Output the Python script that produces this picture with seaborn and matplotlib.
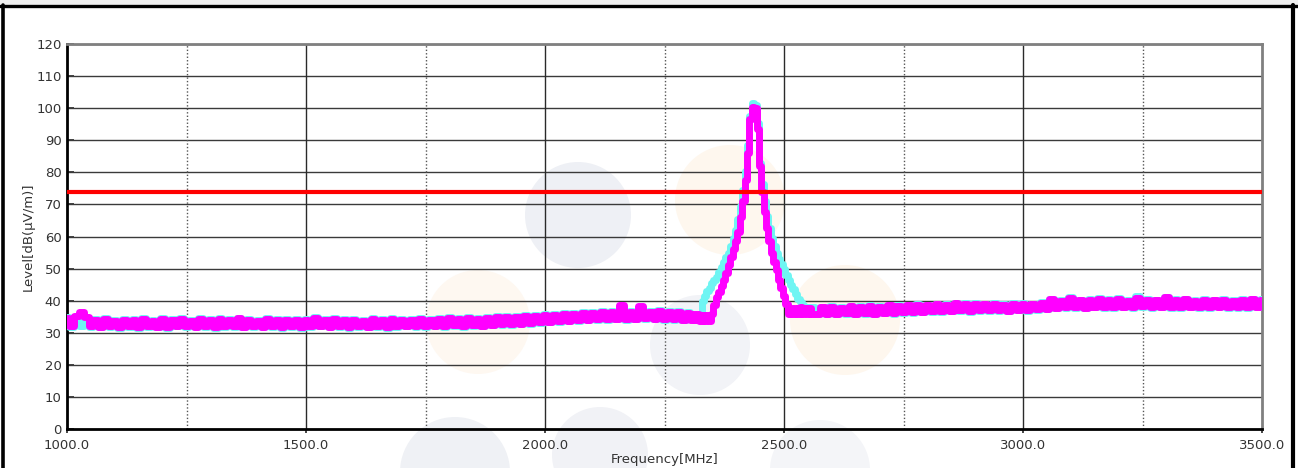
import numpy as np
import pandas as pd
import matplotlib
matplotlib.use("Agg")
import matplotlib.pyplot as plt
from matplotlib.patches import Circle, Rectangle
from matplotlib.lines import Line2D
import seaborn as sns

# ---------------- data ----------------
freq_a = list(range(1000, 2301, 10))      # MHz
freq_b = list(range(2305, 2561, 5))
freq_c = list(range(2570, 3501, 10))
frequency = freq_a + freq_b + freq_c

magenta_a = [
    34.5, 32.0, 35.2, 36.4, 34.8, 32.2, 34.0, 31.9, 34.2, 32.0,
    33.8, 31.8, 34.1, 32.0, 33.9, 31.7, 34.2, 32.1, 33.8, 31.9,
    34.3, 31.8, 33.9, 32.2, 34.4, 32.0, 33.8, 31.9, 34.2, 32.1,
    34.0, 31.8, 34.3, 32.0, 33.9, 32.1, 34.5, 31.9, 34.0, 32.0,
    33.8, 31.9, 34.2, 32.1, 34.0, 31.8, 33.9, 32.0, 34.1, 31.8,
    33.9, 32.0, 34.6, 32.2, 34.0, 31.9, 34.3, 32.1, 33.9, 31.8,
    34.1, 32.0, 33.8, 31.9, 34.2, 32.1, 34.0, 31.8, 34.3, 32.0,
    34.1, 32.2, 33.9, 32.0, 34.4, 32.1, 34.0, 32.2, 34.3, 32.0,
    34.5, 32.3, 34.2, 32.1, 34.6, 32.4, 34.3, 32.2, 34.7, 32.5,
    34.8, 32.6, 35.0, 32.7, 34.9, 32.8, 35.3, 33.0, 35.1, 33.2,
    35.6, 33.4, 35.5, 33.6, 35.9, 33.8, 35.8, 34.0, 36.3, 34.1,
    36.2, 34.2, 36.6, 34.3, 36.4, 34.4, 38.8, 34.3, 36.5, 34.4,
    38.2, 34.5, 36.6, 34.4, 36.7, 34.3, 36.5, 34.2, 36.4, 34.1,
    36.3,
]
magenta_b = [
    34.0, 35.8, 33.9, 35.7, 33.8, 35.5, 33.7, 35.4, 33.8, 36.0,
    38.5, 41.0, 42.8, 44.5, 46.5, 48.5, 51.0, 53.5, 56.0, 58.5,
    61.5, 66.0, 71.0, 77.5, 86.0, 96.5, 100.5, 100.0, 93.5, 82.0,
    74.0, 67.5, 62.5, 58.5, 55.0, 52.0, 49.5, 46.5, 44.0, 41.5,
    39.0, 36.0, 37.8, 35.8, 37.6, 35.7, 37.9, 35.8, 37.7, 35.9,
    37.8, 36.0,
]
magenta_c = [
    35.8, 37.9, 35.9, 38.0, 36.0, 37.8, 36.1, 38.2, 35.9, 38.0,
    36.2, 38.3, 36.0, 38.1, 36.3, 38.5, 36.2, 38.3, 36.4, 38.6,
    36.5, 38.7, 36.6, 38.5, 36.8, 38.9, 36.7, 38.8, 36.9, 39.2,
    37.0, 39.0, 36.8, 39.1, 37.0, 38.9, 37.1, 39.0, 37.0, 38.8,
    36.9, 39.0, 37.2, 39.1, 37.0, 38.9, 37.3, 39.4, 37.5, 40.4,
    37.8, 40.0, 37.9, 40.8, 38.0, 40.1, 37.8, 40.3, 38.1, 40.5,
    38.0, 40.2, 37.9, 40.6, 38.1, 40.0, 38.0, 40.9, 38.2, 40.3,
    38.0, 40.1, 38.1, 41.2, 38.0, 40.2, 37.9, 40.4, 38.1, 40.0,
    38.0, 40.3, 37.9, 40.1, 38.1, 40.2, 38.0, 40.0, 37.9, 40.3,
    38.0, 40.4, 38.1, 40.2,
]
cyan_a = [
    34.8, 31.7, 35.0, 32.0, 34.6, 31.9, 34.3, 31.7, 34.5, 31.8,
    34.1, 31.6, 34.4, 31.8, 34.2, 31.6, 34.5, 31.9, 34.1, 31.7,
    34.5, 31.6, 34.2, 32.0, 34.6, 31.8, 34.1, 31.7, 34.5, 31.9,
    34.3, 31.6, 34.6, 31.8, 34.2, 31.9, 34.7, 31.7, 34.3, 31.8,
    34.1, 31.7, 34.5, 31.9, 34.3, 31.6, 34.2, 31.8, 34.4, 31.6,
    34.2, 31.8, 34.8, 32.0, 34.3, 31.7, 34.6, 31.9, 34.2, 31.6,
    34.4, 31.8, 34.1, 31.7, 34.5, 31.9, 34.3, 31.6, 34.6, 31.8,
    34.4, 32.0, 34.2, 31.8, 34.7, 31.9, 34.3, 32.0, 34.6, 31.8,
    34.8, 32.1, 34.5, 31.9, 34.9, 32.2, 34.6, 32.0, 35.0, 32.3,
    35.1, 32.4, 35.3, 32.5, 35.2, 32.6, 35.6, 32.8, 35.4, 33.0,
    35.9, 33.2, 35.8, 33.4, 36.2, 33.6, 36.1, 33.8, 36.6, 33.9,
    36.5, 34.0, 36.9, 34.1, 36.7, 34.2, 37.5, 34.1, 36.8, 34.2,
    37.1, 34.3, 36.9, 34.2, 37.0, 34.1, 36.8, 34.0, 36.7, 33.9,
    36.6,
]
cyan_b = [
    34.3, 36.0, 34.1, 35.9, 34.0, 40.0, 41.5, 43.0, 44.0, 45.5,
    46.5, 47.5, 49.0, 50.5, 52.0, 53.5, 55.0, 57.0, 59.5, 62.0,
    65.5, 69.5, 74.5, 80.5, 88.5, 97.5, 101.5, 101.0, 95.5, 83.0,
    76.5, 71.0, 66.5, 62.5, 59.5, 57.0, 55.0, 53.0, 51.5, 50.0,
    48.0, 46.5, 45.0, 43.5, 42.0, 40.5, 39.5, 38.5, 36.5, 38.0,
    36.2, 38.0,
]
cyan_c = [
    36.0, 38.1, 35.7, 38.2, 35.8, 38.0, 35.9, 38.4, 35.7, 38.2,
    36.0, 38.5, 35.8, 38.3, 36.1, 38.7, 36.0, 38.5, 36.2, 38.8,
    36.3, 38.9, 36.4, 38.7, 36.6, 39.1, 36.5, 39.0, 36.7, 39.4,
    36.8, 39.2, 36.6, 39.3, 36.8, 39.1, 36.9, 39.2, 36.8, 39.0,
    36.7, 39.2, 37.0, 39.3, 36.8, 39.1, 37.1, 39.6, 37.3, 40.6,
    37.6, 40.2, 37.7, 41.0, 37.8, 40.3, 37.6, 40.5, 37.9, 40.7,
    37.8, 40.4, 37.7, 40.8, 37.9, 40.2, 37.8, 41.3, 38.0, 40.5,
    37.8, 40.3, 37.9, 41.0, 37.8, 40.4, 37.7, 40.6, 37.9, 40.2,
    37.8, 40.5, 37.7, 40.3, 37.9, 40.4, 37.8, 40.2, 37.7, 40.5,
    37.8, 40.6, 37.9, 40.4,
]
magenta_level = magenta_a + magenta_b + magenta_c
cyan_level = cyan_a + cyan_b + cyan_c
limit_level = 74

x_major_ticks = [1000, 1500, 2000, 2500, 3000, 3500]
x_minor_ticks = [1250, 1750, 2250, 2750, 3250]
y_ticks = list(range(0, 121, 10))

df = pd.DataFrame({"Frequency": frequency, "cyan": cyan_level, "magenta": magenta_level})

# ---------------- figure ----------------
sns.set_style("white")
plt.rcParams["font.family"] = ["DejaVu Sans"]
W, H = 1298, 468
fig = plt.figure(figsize=(W / 100, H / 100), dpi=100)
fig.patch.set_facecolor("white")

# watermark circles (background decoration)
circles = [
    (578, 215, 53, "#eef0f5"), (730, 200, 55, "#fef7ee"), (478, 322, 52, "#fef8f1"),
    (845, 320, 55, "#fef7ee"), (700, 345, 50, "#f2f3f7"), (600, 455, 48, "#f1f2f6"),
    (455, 472, 55, "#eff1f5"), (820, 470, 50, "#f4f5f8"),
]
for cx, cy, r, c in circles:
    fig.patches.append(Circle((cx, H - cy), r, transform=None, facecolor=c,
                              edgecolor="none", zorder=-5))

# top strip + frame
fig.patches.append(Rectangle((0, 1 - 5 / H), 1, 5 / H, transform=fig.transFigure,
                             facecolor="#f0f0f0", edgecolor="none", zorder=1))
fig.lines.append(Line2D([0, 1], [1 - 6 / H, 1 - 6 / H], transform=fig.transFigure,
                        color="black", lw=2.4, zorder=2))
fig.lines.append(Line2D([2.5 / W, 2.5 / W], [0, 1 - 5 / H], transform=fig.transFigure,
                        color="black", lw=2.6, zorder=2))
fig.lines.append(Line2D([1293 / W, 1293 / W], [0, 1 - 5 / H], transform=fig.transFigure,
                        color="black", lw=3.0, zorder=2))

ax = fig.add_axes([67 / W, 39 / H, (1262 - 67) / W, (429 - 44) / H])
ax.set_facecolor("none")

sns.lineplot(data=df, x="Frequency", y="cyan", color="#6ff5f3", lw=5.0,
             drawstyle="steps-mid", estimator=None, sort=False, ax=ax, zorder=3)
sns.lineplot(data=df, x="Frequency", y="magenta", color="#ff00ff", lw=5.0,
             drawstyle="steps-mid", estimator=None, sort=False, ax=ax, zorder=4)
ax.axhline(limit_level, color="#ff0000", lw=3.0, zorder=5)

ax.set_xlim(1000, 3500)
ax.set_ylim(0, 120)
ax.set_xticks(x_major_ticks)
ax.set_xticklabels([f"{v:.1f}" for v in x_major_ticks])
ax.set_xticks(x_minor_ticks, minor=True)
ax.set_yticks(y_ticks)
ax.set_yticks(list(range(0, 121, 2)), minor=True)

for v in y_ticks[1:]:
    ax.axhline(v, color="#3a3a3a", lw=1.0, zorder=1)
for v in x_major_ticks[1:-1]:
    ax.axvline(v, color="#2a2a2a", lw=1.0, zorder=1)
for v in x_minor_ticks:
    ax.axvline(v, color="#555555", lw=1.0, ls=(0, (1, 1.5)), zorder=1)

ax.tick_params(axis="y", which="major", direction="in", length=5, width=1.2,
               labelsize=9.5, labelcolor="#333333", pad=4)
ax.tick_params(axis="y", which="minor", direction="in", length=3, width=1.0)
ax.tick_params(axis="x", which="major", direction="out", length=3, width=1.2,
               labelsize=9.5, labelcolor="#333333", pad=4)
ax.tick_params(axis="x", which="minor", length=0)
ax.tick_params(left=True, bottom=True)

for s in ["left", "bottom"]:
    ax.spines[s].set_color("black")
    ax.spines[s].set_linewidth(2.0)
for s in ["top", "right"]:
    ax.spines[s].set_color("#808080")
    ax.spines[s].set_linewidth(2.0)
    ax.spines[s].set_visible(True)

ax.set_xlabel("Frequency[MHz]", fontsize=9.5, color="#333333", labelpad=1)
ax.set_ylabel("Level[dB(μV/m)]", fontsize=9.5, color="#333333", labelpad=1)

fig.savefig("out.png", dpi=100)
